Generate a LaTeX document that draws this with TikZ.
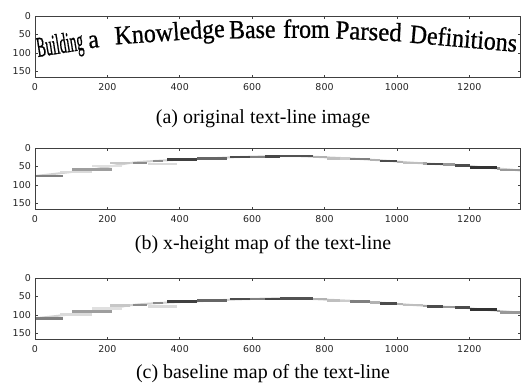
\documentclass[tikz,border=0pt]{standalone}
\usepackage{fontspec}
\setmainfont{Liberation Serif}
\newfontfamily\tickfont{DejaVu Sans}
\newfontfamily\wordfont[FakeBold=0.8]{Liberation Serif}
\newcommand\drawbars[2]{%
  \draw[black!18, line width=2bp] plot[smooth] coordinates {(35,{#1+#2+28}) (92,{#1+#2+21.5}) (130,{#1+#2+15}) (163,{#1+#2+12.5}) (197,{#1+#2+11}) (240,{#1+#2+9}) (290,{#1+#2+8}) (330,{#1+#2+9.5}) (360,{#1+#2+11}) (390,{#1+#2+13}) (413,{#1+#2+14.7}) (435,{#1+#2+16}) (462,{#1+#2+17.3}) (483,{#1+#2+19.3}) (510,{#1+#2+21.5}) (520,{#1+#2+22.5})};
  \foreach \xa/\xb/\dy/\gr in {35/63/28/50, 60/92/24/14, 72/112/21.3/38, 92/122/18/12,
      110/130/15/22, 133/147/14.7/45, 148/177/16/14, 153/163/12.7/45, 167/197/11.3/75,
      197/227/10.3/60, 230/250/8.8/70, 250/265/8.7/50, 265/280/8.5/72, 280/313/8/68,
      313/327/8.8/30, 327/340/10.3/25, 340/350/10.6/20, 350/370/11/50, 370/380/12/30,
      380/397/13/70, 397/403/13.8/30, 403/423/14.7/25, 423/427/15.5/35, 427/443/16/70,
      443/455/16.6/40, 455/470/17.3/70, 470/497/19.3/80, 497/500/20.5/40, 500/520/22/40}{
    \fill[black!\gr] (\xa,{#1+#2+\dy-1.2}) rectangle (\xb,{#1+#2+\dy+1.2});
  }}
\begin{document}
\begin{tikzpicture}[x=1bp,y=-1bp,
  frame/.style={draw=black!75, line width=0.8bp},
  tickmark/.style={draw=black!75, line width=0.6bp},
  ticklbl/.style={font=\tickfont\fontsize{9.5}{10}\selectfont, text=black!85, inner sep=0},
  caption/.style={font=\fontsize{20}{22}\selectfont, inner sep=0},
  word/.style={font=\wordfont\fontsize{24}{26}\selectfont, anchor=base west, inner sep=0}]
\useasboundingbox (0,0) rectangle (529,389);
\fill[white] (0,0) rectangle (529,389);

% maps
\drawbars{148}{0}
\drawbars{278}{12.3}

% words of panel (a)
\node[word, rotate=9, xscale=0.56, yscale=1.2] (w1) at (38,57) {Building};
\node[word, rotate=8, yscale=1.1] (w2) at (89,48.5) {a};
\node[word, rotate=4, yscale=1.1] (w3) at (115,44.5) {Knowledge};
\node[word, rotate=1, yscale=1.1] (w4) at (229,38.5) {Base};
\node[word, rotate=0, yscale=1.1] (w5) at (283,37.8) {from};
\node[word, rotate=-2.5, yscale=1.1, xscale=1.04] (w6) at (335,38.5) {Parsed};
\node[word, rotate=-5, yscale=1.1] (w7) at (409,42.5) {Definitions};

% axes
\foreach \T/\n in {16/a,148/b,278/c}{
  \draw[frame] (35,\T) rectangle (520,{\T+61});
  \foreach \u in {0,200,400,600,800,1000,1200}{
    \pgfmathsetmacro\px{35+\u*0.3619}
    \draw[tickmark] (\px,\T) -- ++(0,2.5);
    \draw[tickmark] (\px,{\T+61}) -- ++(0,-2.5);
    \node[ticklbl] (xl\n\u) at (\px,{\T+71.5}) {\u};
  }
  \foreach \v in {0,50,100,150}{
    \pgfmathsetmacro\py{\T+\v*0.37}
    \draw[tickmark] (35,\py) -- ++(2.5,0);
    \draw[tickmark] (520,\py) -- ++(-2.5,0);
    \node[ticklbl, anchor=east] (yl\n\v) at (31,\py) {\v};
  }
}

% captions
\node[caption] (capa) at (263,119) {(a) original text-line image};
\node[caption] (capb) at (263,245) {(b) x-height map of the text-line};
\node[caption] (capc) at (263,374) {(c) baseline map of the text-line};
\end{tikzpicture}
\end{document}
